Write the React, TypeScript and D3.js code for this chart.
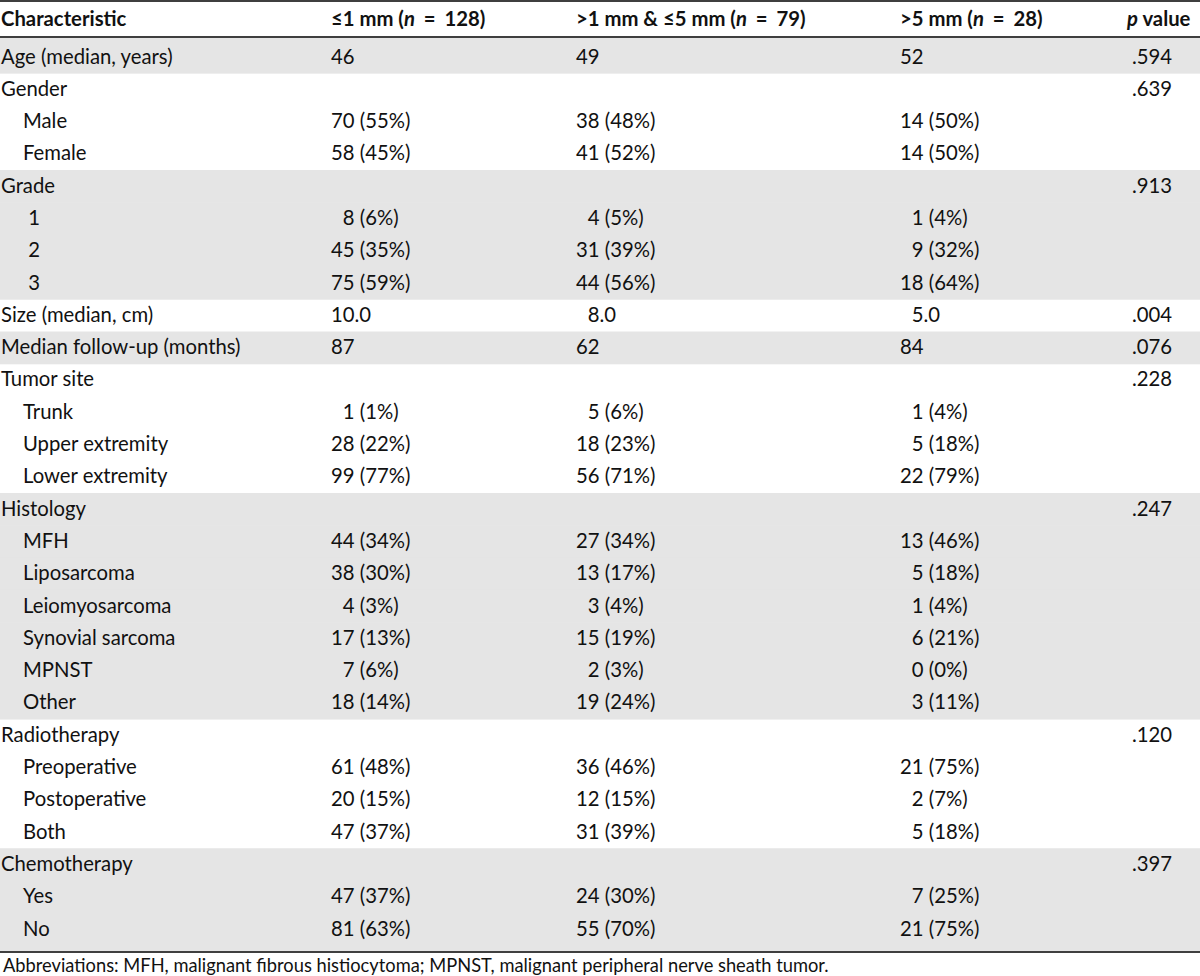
import React from "react";
import * as d3 from "d3";

const headers = ["Characteristic", "≤1 mm (n = 128)", ">1 mm & ≤5 mm (n = 79)", ">5 mm (n = 28)", "p value"];

const rowLabels = [
  "Age (median, years)", "Gender", "Male", "Female",
  "Grade", "1", "2", "3",
  "Size (median, cm)", "Median follow-up (months)",
  "Tumor site", "Trunk", "Upper extremity", "Lower extremity",
  "Histology", "MFH", "Liposarcoma", "Leiomyosarcoma", "Synovial sarcoma", "MPNST", "Other",
  "Radiotherapy", "Preoperative", "Postoperative", "Both",
  "Chemotherapy", "Yes", "No",
];

const rowLevel = [
  0, 0, 1, 1,
  0, 1, 1, 1,
  0, 0,
  0, 1, 1, 1,
  0, 1, 1, 1, 1, 1, 1,
  0, 1, 1, 1,
  0, 1, 1,
];

const colLe1 = [
  "46", "", "70 (55%)", "58 (45%)",
  "", "8 (6%)", "45 (35%)", "75 (59%)",
  "10.0", "87",
  "", "1 (1%)", "28 (22%)", "99 (77%)",
  "", "44 (34%)", "38 (30%)", "4 (3%)", "17 (13%)", "7 (6%)", "18 (14%)",
  "", "61 (48%)", "20 (15%)", "47 (37%)",
  "", "47 (37%)", "81 (63%)",
];

const col1to5 = [
  "49", "", "38 (48%)", "41 (52%)",
  "", "4 (5%)", "31 (39%)", "44 (56%)",
  "8.0", "62",
  "", "5 (6%)", "18 (23%)", "56 (71%)",
  "", "27 (34%)", "13 (17%)", "3 (4%)", "15 (19%)", "2 (3%)", "19 (24%)",
  "", "36 (46%)", "12 (15%)", "31 (39%)",
  "", "24 (30%)", "55 (70%)",
];

const colGt5 = [
  "52", "", "14 (50%)", "14 (50%)",
  "", "1 (4%)", "9 (32%)", "18 (64%)",
  "5.0", "84",
  "", "1 (4%)", "5 (18%)", "22 (79%)",
  "", "13 (46%)", "5 (18%)", "1 (4%)", "6 (21%)", "0 (0%)", "3 (11%)",
  "", "21 (75%)", "2 (7%)", "5 (18%)",
  "", "7 (25%)", "21 (75%)",
];

const pValues = [
  ".594", ".639", "", "",
  ".913", "", "", "",
  ".004", ".076",
  ".228", "", "", "",
  ".247", "", "", "", "", "", "",
  ".120", "", "", "",
  ".397", "", "",
];

const footnote = "Abbreviations: MFH, malignant fibrous histiocytoma; MPNST, malignant peripheral nerve sheath tumor.";

const W = 1200;
const H = 976;
const FONT = "Lato, 'Open Sans', sans-serif";
const FS = 20.3;
const DIGIT = FS * 0.58;
const LINE = "#3f3f3f";
const BAND = "#e5e5e5";

function headerText(s: string) {
  const parts = s.split(/\b([np])\b|(=)/).filter((p) => p !== undefined && p !== "");
  const out: React.ReactNode[] = [];
  parts.forEach((p, i) => {
    if (p === "n" || p === "p") out.push(<tspan key={i} fontStyle="italic">{p}</tspan>);
    else if (p === "=") out.push(<tspan key={i} dx={4} fontWeight="bold">{"="}</tspan>);
    else if (i > 0 && parts[i - 1] === "=") out.push(<tspan key={i} dx={4}>{p}</tspan>);
    else out.push(<tspan key={i}>{p}</tspan>);
  });
  return out;
}

export default function App() {
  const n = rowLabels.length;
  const y = d3.scaleLinear().domain([0, n - 1]).range([57, 929]);
  const bodyTop = 38;
  const bodyBottom = 952;

  const cols = ["label", "le1", "mid", "gt5", "p"];
  const x = d3.scaleOrdinal<string, number>().domain(cols).range([1, 331, 576, 900, 1132]);
  const headerX = d3.scaleOrdinal<string, number>().domain(cols).range([1, 331, 576, 900, 1127]);

  let g = -1;
  const groupIdx = rowLevel.map((lv) => {
    if (lv === 0) g += 1;
    return g;
  });

  const top = (i: number) => (i === 0 ? bodyTop : (y(i - 1) + y(i)) / 2);
  const bot = (i: number) => (i === n - 1 ? bodyBottom : (y(i) + y(i + 1)) / 2);

  const valueCols: [string, string[]][] = [
    ["le1", colLe1],
    ["mid", col1to5],
    ["gt5", colGt5],
  ];

  const pad = (s: string) => {
    const m = s.match(/^(\d+)/);
    return m && m[1].length === 1 ? DIGIT : 0;
  };

  return (
    <svg
      width={W}
      height={H}
      viewBox={`0 0 ${W} ${H}`}
      style={{ position: "absolute", left: 0, top: 0, display: "block", background: "#fff" }}
      fontFamily={FONT}
      fontSize={FS}
      fill="#111"
    >
      <rect x={0} y={0} width={W} height={H} fill="#fff" />
      {rowLabels.map((_, i) =>
        groupIdx[i] % 2 === 0 ? (
          <rect key={"b" + i} x={0} y={top(i)} width={W} height={bot(i) - top(i) + 0.5} fill={BAND} />
        ) : null
      )}
      <line x1={0} x2={W} y1={1} y2={1} stroke={LINE} strokeWidth={2} />
      <line x1={0} x2={W} y1={37} y2={37} stroke={LINE} strokeWidth={2} />
      <line x1={0} x2={W} y1={bodyBottom} y2={bodyBottom} stroke={LINE} strokeWidth={2} />

      {headers.map((h, j) => (
        <text key={"h" + j} x={headerX(cols[j])} y={26} fontWeight="bold">
          {headerText(h)}
        </text>
      ))}

      {rowLabels.map((lab, i) => (
        <g key={"r" + i} transform={`translate(0,${y(i) + 6.5})`}>
          <text x={x("label") + (rowLevel[i] ? 22 : 0) + (/^\d$/.test(lab) ? DIGIT * 0.45 : 0)}>{lab}</text>
          {valueCols.map(([c, arr]) =>
            arr[i] ? (
              <text key={c} x={x(c) + pad(arr[i])}>
                {arr[i]}
              </text>
            ) : null
          )}
          {pValues[i] ? <text x={x("p")}>{pValues[i]}</text> : null}
        </g>
      ))}

      <text x={3} y={972} fontSize={18.3}>
        {footnote}
      </text>
    </svg>
  );
}
